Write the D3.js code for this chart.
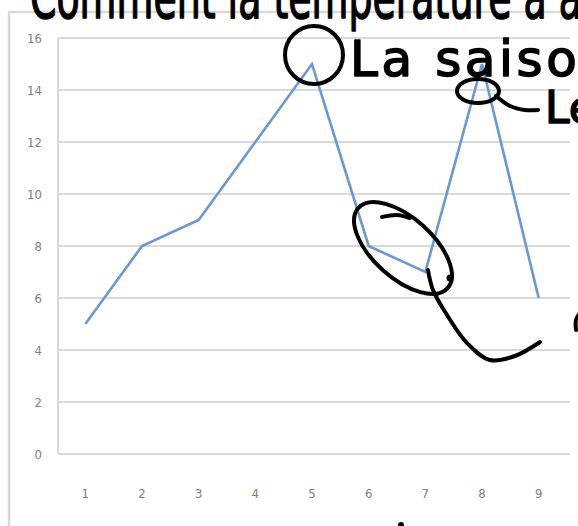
<!DOCTYPE html>
<html><head><meta charset="utf-8">
<script src="https://cdn.jsdelivr.net/npm/d3@7"></script>
<style>html,body{margin:0;padding:0;background:#fff;overflow:hidden}svg{display:block}</style>
</head><body>
<svg id="c" width="578" height="526"></svg>
<script>
const categories = ["1","2","3","4","5","6","7","8","9"];
const values = [5, 8, 9, 12, 15, 8, 7, 15, 6];
const yTicks = [0, 2, 4, 6, 8, 10, 12, 14, 16];

const svg = d3.select("#c");
const W = 578, H = 526;
const x = d3.scaleBand().domain(categories).range([57, 567]);
const y = d3.scaleLinear().domain([0, 16]).range([454, 38]);
const gridColor = "#d9d9d9";
const labFont = "'Liberation Sans Narrow','DejaVu Sans Condensed',sans-serif";

// outer chart frame
svg.append("path").attr("d", `M9,${H+2} L9,12 L${W+2},12`)
  .attr("fill","none").attr("stroke", gridColor).attr("stroke-width", 2.5);

// gridlines
svg.append("g").selectAll("line").data(yTicks).join("line")
  .attr("x1", 58).attr("x2", 570)
  .attr("y1", d => y(d)).attr("y2", d => y(d))
  .attr("stroke", gridColor).attr("stroke-width", 2);
// vertical axis line
svg.append("line").attr("x1",58).attr("x2",58).attr("y1",y(16)).attr("y2",y(0))
  .attr("stroke", gridColor).attr("stroke-width", 2);

// y labels
svg.append("g").selectAll("text").data(yTicks).join("text")
  .attr("x", 42).attr("y", d => y(d)).attr("dy","0.35em")
  .attr("text-anchor","end").attr("font-family", labFont).attr("font-size", 13)
  .attr("fill","#808080").text(d => d);
// x labels
svg.append("g").selectAll("text").data(categories).join("text")
  .attr("x", d => x(d) + x.bandwidth()/2).attr("y", 493).attr("dy","0.35em")
  .attr("text-anchor","middle").attr("font-family", labFont).attr("font-size", 13)
  .attr("fill","#808080").text(d => d);

// data line
const line = d3.line().x((d,i) => x(categories[i]) + x.bandwidth()/2).y(d => y(d));
svg.append("path").datum(values).attr("d", line)
  .attr("fill","none").attr("stroke","#6a98cf").attr("stroke-width", 2.6)
  .attr("stroke-linejoin","miter");

// ---- handwritten annotations ----
const ink = svg.append("g").attr("fill","none").attr("stroke","#000")
  .attr("stroke-width", 4).attr("stroke-linecap","round").attr("stroke-linejoin","round");
const px = c => x(c) + x.bandwidth()/2;
const hand = "'DejaVu Sans',sans-serif";
const handText = (sel) => sel.attr("font-family", hand).attr("fill","#000")
  .attr("stroke","#000").attr("stroke-width",1.6).attr("stroke-linejoin","round");

// top text (cut off)
svg.append("text").attr("x", 30).attr("y", 18).call(handText)
  .attr("font-size", 60).attr("textLength", 600).attr("lengthAdjust","spacingAndGlyphs")
  .text("Comment la température a aug");

// circle around peak at 5
ink.append("ellipse").attr("cx", px("5")+2).attr("cy", y(15)-9).attr("rx", 29).attr("ry", 29);
svg.append("text").attr("x", 350).attr("y", 76).call(handText)
  .attr("font-size", 50).attr("textLength", 262).attr("lengthAdjust","spacing")
  .text("La saison");

// small circle at peak 8 with tail
ink.append("ellipse").attr("cx", px("8")-4).attr("cy", y(15)+27).attr("rx", 21).attr("ry", 12);
const curve = d3.line().curve(d3.curveCatmullRom);
ink.append("path").attr("d", curve([[496,96],[510,106],[525,110],[538,110]]));
svg.append("text").attr("x", 545).attr("y", 123).call(handText)
  .attr("font-size", 44).text("Le");

// big loop around 6-7
ink.append("ellipse").attr("cx", 403).attr("cy", 248).attr("rx", 60).attr("ry", 30)
  .attr("transform","rotate(42 403 248)");
ink.append("path").attr("d", curve([[382,217],[397,215],[410,218]]));
ink.append("path").attr("d", curve([[428,270],[433,290],[447,315],[467,343],[490,360],[515,356],[540,342]]));
ink.append("circle").attr("cx", 450).attr("cy", 278).attr("r", 1.5);
ink.append("path").attr("d", curve([[580,313],[576,320],[576,330]]));
svg.append("circle").attr("cx", 401).attr("cy", 525).attr("r", 3).attr("fill","#000");
</script>
</body></html>
